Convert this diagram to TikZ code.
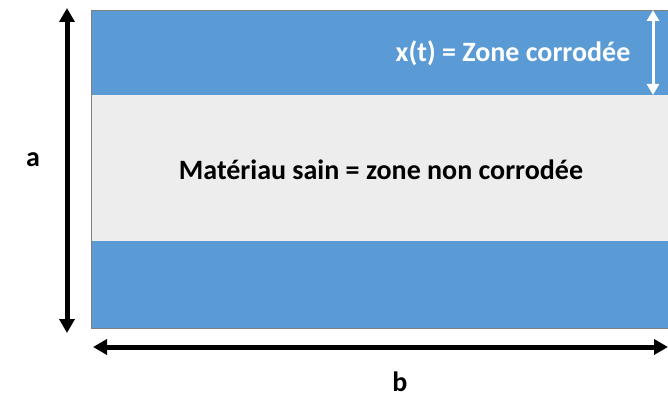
\documentclass[tikz,border=0pt]{standalone}
\usepackage{fontspec}
\setmainfont{Carlito}
\usetikzlibrary{arrows.meta}
\definecolor{corroded}{RGB}{91,155,213}
\definecolor{sound}{RGB}{237,237,237}
\tikzset{
  dimarrow/.style={{Triangle[length=14pt,width=15pt]}-{Triangle[length=14pt,width=15pt]}, line width=5pt},
  label/.style={font=\bfseries\fontsize{28}{30}\selectfont}
}
\begin{document}
\begin{tikzpicture}[x=1pt,y=-1pt]
\useasboundingbox (0,0) rectangle (668,398);
\fill[corroded] (91,10) rectangle (670,95);
\fill[sound] (91,95) rectangle (670,241);
\fill[corroded] (91,241) rectangle (670,328);
\draw[gray, line width=0.8pt] (91,10) rectangle (670,328);
\node[label, white] (zone) at (513,53) {x(t) = Zone corrodée};
\node[label] (sain) at (381,170) {Matériau sain = zone non corrodée};
\coordinate (xtop) at (653,10);
\coordinate (xbot) at (653,95);
\draw[{Triangle[length=11pt,width=12pt]}-{Triangle[length=11pt,width=12pt]}, white, line width=3pt] (xtop) -- (xbot);
\coordinate (atop) at (67,8);
\coordinate (abot) at (67,333);
\draw[dimarrow] (atop) -- (abot);
\node[label] (a) at (33,160) {a};
\coordinate (bleft) at (93,347);
\coordinate (bright) at (668,347);
\draw[dimarrow] (bleft) -- (bright);
\node[label] (b) at (400,382) {b};
\end{tikzpicture}
\end{document}
